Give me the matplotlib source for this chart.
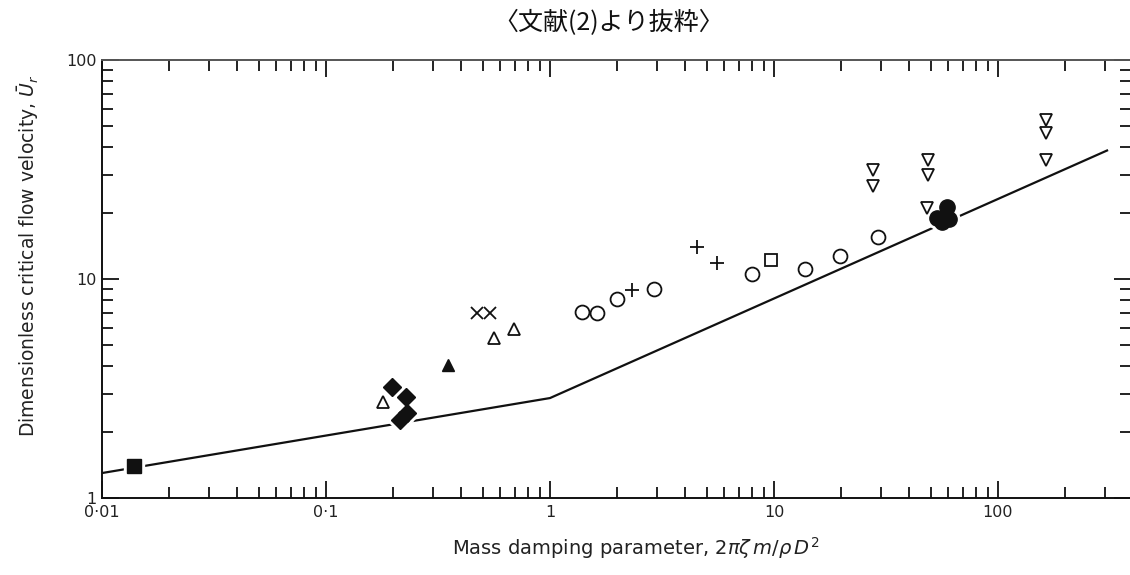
import matplotlib
matplotlib.use("Agg")
import matplotlib.pyplot as plt
from matplotlib.ticker import FixedLocator, FixedFormatter, LogLocator, NullFormatter

# Design line (two straight segments on log-log axes)
LINE_X = [0.01, 1.0, 310.0]
LINE_Y = [1.30, 2.86, 38.8]

# Experimental points, grouped by symbol
SQ_FILLED_X = [0.0139]
SQ_FILLED_Y = [1.40]
DIAMOND_X = [0.197, 0.2275, 0.229, 0.214]
DIAMOND_Y = [3.21, 2.89, 2.44, 2.27]
TRI_OPEN_X = [0.179, 0.562, 0.69]
TRI_OPEN_Y = [2.74, 5.38, 5.91]
TRI_FILLED_X = [0.351]
TRI_FILLED_Y = [4.05]
CROSS_X = [0.472, 0.54]
CROSS_Y = [7.0, 7.0]
PLUS_X = [2.32, 4.53, 5.57]
PLUS_Y = [8.9, 14.0, 11.8]
CIRCLE_X = [1.39, 1.62, 1.99, 2.91, 7.97, 13.7, 19.7, 29.1]
CIRCLE_Y = [7.07, 7.0, 8.1, 9.0, 10.5, 11.1, 12.7, 15.6]
SQ_OPEN_X = [9.7]
SQ_OPEN_Y = [12.2]
TRI_DOWN_X = [27.7, 27.7, 48.7, 48.7, 48.0, 163.7, 163.7, 163.7]
TRI_DOWN_Y = [31.5, 26.6, 34.9, 29.9, 21.1, 53.2, 46.4, 34.9]
DOT_X = [59.2, 53.4, 60.7, 56.3]
DOT_Y = [21.3, 19.0, 18.8, 18.2]

X_TICKS = [0.01, 0.1, 1, 10, 100]
X_TICK_LABELS = ["0·01", "0·1", "1", "10", "100"]
Y_TICKS = [1, 10, 100]
Y_TICK_LABELS = ["1", "10", "100"]

W, H = 1130, 575
fig = plt.figure(figsize=(W / 100, H / 100), dpi=100)
left, right, bottom, top = 102, 1131, 498, 60
ax = fig.add_axes([left / W, (H - bottom) / H, (right - left) / W, (bottom - top) / H])
ax.set_xscale("log")
ax.set_yscale("log")
x_hi = 10 ** (2 + (right - 998) / 224)
ax.set_xlim(0.01, x_hi)
ax.set_ylim(1, 100)

ink = "#111111"

# design line
ax.plot(LINE_X, LINE_Y, color=ink, lw=1.6, zorder=2, solid_capstyle="butt")

# white halos so the solid symbols interrupt the line
for xs, ys, m, s in [(SQ_FILLED_X, SQ_FILLED_Y, "s", 10),
                     (DIAMOND_X, DIAMOND_Y, "D", 9),
                     (DOT_X, DOT_Y, "o", 11)]:
    ax.plot(xs, ys, ls="none", marker=m, ms=s + 4, mfc="white", mec="white", zorder=3)

ax.plot(SQ_FILLED_X, SQ_FILLED_Y, ls="none", marker="s", ms=10, mfc=ink, mec=ink, zorder=4)
ax.plot(DIAMOND_X, DIAMOND_Y, ls="none", marker="D", ms=9, mfc=ink, mec=ink, zorder=4)
ax.plot(DOT_X, DOT_Y, ls="none", marker="o", ms=11, mfc=ink, mec=ink, zorder=4)
ax.plot(TRI_FILLED_X, TRI_FILLED_Y, ls="none", marker="^", ms=9, mfc=ink, mec=ink, zorder=4)

open_kw = dict(ls="none", mfc="white", mec=ink, mew=1.3, zorder=4)
ax.plot(TRI_OPEN_X, TRI_OPEN_Y, marker="^", ms=9, **open_kw)
ax.plot(CIRCLE_X, CIRCLE_Y, marker="o", ms=10, **open_kw)
ax.plot(SQ_OPEN_X, SQ_OPEN_Y, marker="s", ms=9, **open_kw)
ax.plot(TRI_DOWN_X, TRI_DOWN_Y, marker="v", ms=9, **open_kw)
ax.plot(CROSS_X, CROSS_Y, ls="none", marker="x", ms=8, mec=ink, mew=1.3, zorder=4)
ax.plot(PLUS_X, PLUS_Y, ls="none", marker="+", ms=10, mec=ink, mew=1.3, zorder=4)

# axes frame and ticks
for side in ("left", "bottom", "top"):
    ax.spines[side].set_linewidth(1.4)
    ax.spines[side].set_color(ink)
ax.spines["top"].set_color("#555555")
ax.spines["right"].set_visible(False)

ax.xaxis.set_major_locator(FixedLocator(X_TICKS))
ax.xaxis.set_major_formatter(FixedFormatter(X_TICK_LABELS))
ax.yaxis.set_major_locator(FixedLocator(Y_TICKS))
ax.yaxis.set_major_formatter(FixedFormatter(Y_TICK_LABELS))
ax.xaxis.set_minor_locator(LogLocator(base=10, subs=range(2, 10), numticks=20))
ax.yaxis.set_minor_locator(LogLocator(base=10, subs=range(2, 10), numticks=20))
ax.xaxis.set_minor_formatter(NullFormatter())
ax.yaxis.set_minor_formatter(NullFormatter())

ax.tick_params(which="both", direction="in", top=True, right=True, color=ink, width=1.3)
ax.tick_params(which="major", length=12)
ax.tick_params(which="minor", length=8)
ax.tick_params(axis="x", which="major", pad=5, labelsize=11.5, labelcolor="#222222")
ax.tick_params(axis="y", which="major", pad=4, labelsize=11.5, labelcolor="#222222")

fig.text(28 / W, 1 - 256 / H, r"Dimensionless critical flow velocity, $\bar{U}_r$",
         rotation=90, ha="center", va="center", fontsize=13.5, color="#222222")
fig.text(636 / W, 1 - 548 / H, r"Mass damping parameter, $2\pi\zeta\, m/\rho\, D^2$",
         ha="center", va="center", fontsize=14, color="#222222")
fig.text(609 / W, 1 - 23 / H, "〈文献(2)より抜粋〉", ha="center", va="center",
         fontsize=18, color="#111111", family=["Noto Sans CJK JP", "DejaVu Sans"])

fig.savefig("out.png", dpi=100)
